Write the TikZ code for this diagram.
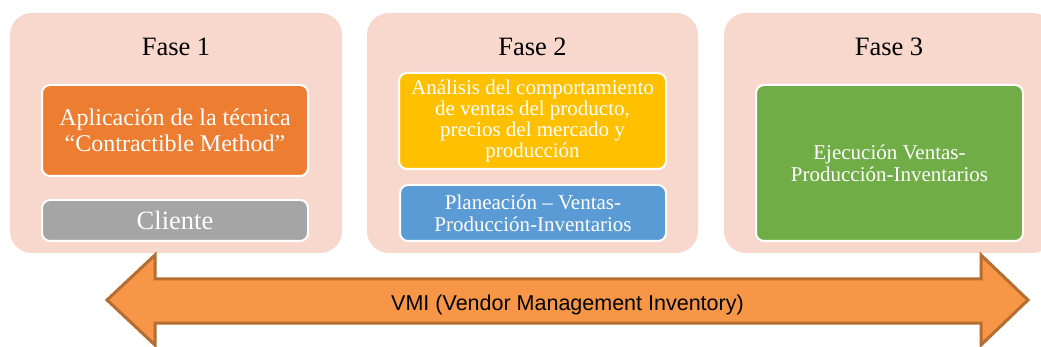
\documentclass[tikz,border=0pt]{standalone}
\usepackage{fontspec}
\setmainfont{Liberation Serif}
\newfontfamily\arialf{Liberation Sans}
\usetikzlibrary{positioning}
\definecolor{phasebg}{HTML}{F8D7CD}
\definecolor{orangeb}{HTML}{ED7D31}
\definecolor{grayb}{HTML}{A5A5A5}
\definecolor{yellowb}{HTML}{FFC000}
\definecolor{blueb}{HTML}{5B9BD5}
\definecolor{greenb}{HTML}{70AD47}
\definecolor{arrowfill}{HTML}{F79646}
\definecolor{arrowline}{HTML}{B56D30}
\tikzset{
  phase/.style={fill=phasebg, draw=none, rounded corners=22pt, inner sep=0pt},
  title/.style={font=\fontsize{26.5}{28}\selectfont, text=black},
  inbox/.style={draw=white, line width=2pt, rounded corners=8pt, inner sep=0pt, text=white, align=center},
}
\begin{document}
\begin{tikzpicture}[x=1pt,y=-1pt]
\clip (0,0) rectangle (1041,347);
\useasboundingbox (0,0) rectangle (1041,347);
\fill[white] (0,0) rectangle (1041,347);
% phase backgrounds
\node[phase, minimum width=332pt, minimum height=240pt] (p1) at (176,133) {};
\node[phase, minimum width=331pt, minimum height=240pt] (p2) at (532.5,133) {};
\node[phase, minimum width=330pt, minimum height=240pt] (p3) at (889,133) {};
% titles
\node[title] (t1) at (176,47) {Fase 1};
\node[title] (t2) at (532.5,47) {Fase 2};
\node[title] (t3) at (889,47) {Fase 3};
% inner boxes
\node[inbox, fill=orangeb, minimum width=266pt, minimum height=91pt, font=\fontsize{24}{25.5}\selectfont] (a1) at (175,130.5) {Aplicación de la técnica\\“Contractible Method”};
\node[inbox, fill=grayb, minimum width=266pt, minimum height=41pt, font=\fontsize{26.5}{28}\selectfont] (a2) at (175,220.5) {Cliente};
\node[inbox, fill=yellowb, minimum width=267pt, minimum height=96pt, font=\fontsize{21}{21}\selectfont] (b1) at (532.5,121) {Análisis del comportamiento\\de ventas del producto,\\precios del mercado y\\producción};
\node[inbox, fill=blueb, minimum width=266pt, minimum height=56pt, font=\fontsize{21}{22}\selectfont] (b2) at (533,213) {Planeación – Ventas-\\Producción-Inventarios};
\node[inbox, fill=greenb, minimum width=267pt, minimum height=156pt, font=\fontsize{21}{22}\selectfont] (c1) at (889.5,163) {Ejecución Ventas-\\Producción-Inventarios};
% double arrow
\draw[fill=arrowfill, draw=arrowline, line width=3pt, line join=miter]
  (107,300) coordinate (lt) -- (155,255) -- (155,279) -- (981,279) -- (981,255)
  -- (1028,300) coordinate (rt) -- (981,345) -- (981,323) -- (155,323) -- (155,345) -- cycle;
\node[font=\arialf\fontsize{21.5}{23}\selectfont] (vmi) at (567.5,304.5) {VMI (Vendor Management Inventory)};
\end{tikzpicture}
\end{document}
